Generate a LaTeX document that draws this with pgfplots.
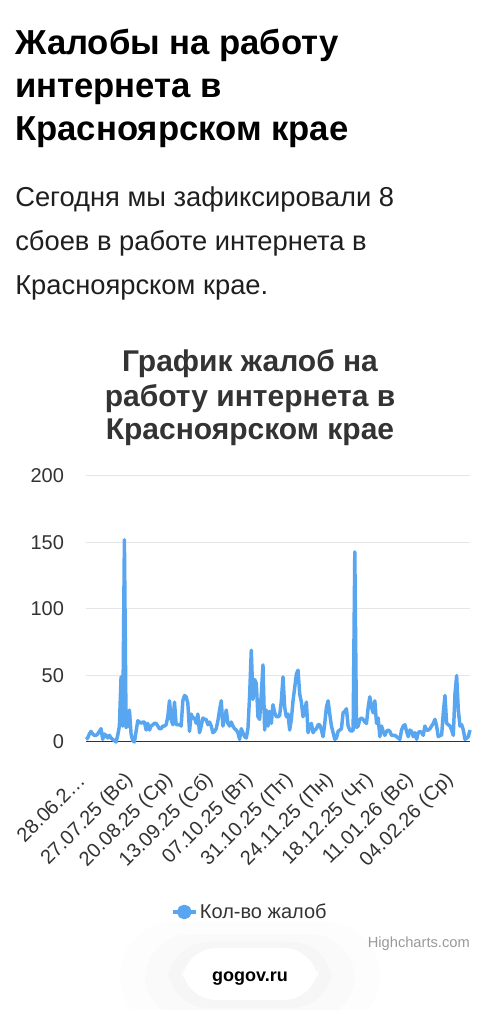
\documentclass[border=0pt]{standalone}
\usepackage{fontspec}
\setmainfont{Liberation Sans}
\usepackage{pgfplots}
\pgfplotsset{compat=1.18}

\definecolor{hcblue}{RGB}{88,166,240}
\definecolor{hctext}{RGB}{51,51,51}
\definecolor{hcgrid}{RGB}{230,230,230}
\definecolor{hcgray}{RGB}{153,153,153}

% daily complaint counts, day 0 = 28.06.25
\pgfplotstableread{
d v
0 2
1 3
2 6
3 8
4 6
5 5
6 5
7 6
8 8
9 10
10 2
11 6
12 5
13 3
14 5
15 3
16 2
17 1
18 0
19 5
20 12
21 49
22 12
23 152
24 11
25 12
26 24
27 6
28 1
29 0
30 8
31 16
32 15
33 14
34 15
35 15
36 9
37 14
38 9
39 12
40 13
41 14
42 14
43 12
44 10
45 10
46 12
47 12
48 13
49 19
50 31
51 17
52 13
53 30
54 13
55 13
56 13
57 12
58 31
59 35
60 34
61 29
62 8
63 21
64 18
65 18
66 14
67 21
68 7
69 12
70 18
71 17
72 17
73 13
74 15
75 12
76 7
77 8
78 10
79 16
80 24
81 31
82 12
83 17
84 24
85 14
86 12
87 15
88 12
89 10
90 9
91 7
92 2
93 10
94 7
95 4
96 3
97 10
98 35
99 69
100 32
101 47
102 44
103 19
104 17
105 36
106 58
107 9
108 24
109 12
110 23
111 14
112 28
113 22
114 19
115 19
116 20
117 31
118 49
119 26
120 19
121 21
122 9
123 17
124 31
125 41
126 51
127 54
128 36
129 30
130 19
131 24
132 30
133 7
134 12
135 14
136 7
137 9
138 10
139 13
140 13
141 9
142 4
143 14
144 26
145 31
146 21
147 12
148 7
149 2
150 3
151 8
152 9
153 10
154 22
155 23
156 25
157 12
158 9
159 8
160 9
161 143
162 11
163 12
164 17
165 18
166 17
167 15
168 14
169 26
170 34
171 26
172 22
173 31
174 14
175 18
176 4
177 12
178 8
179 5
180 8
181 9
182 8
183 5
184 5
185 5
186 4
187 3
188 2
189 9
190 12
191 13
192 8
193 4
194 9
195 8
196 4
197 7
198 2
199 7
200 8
201 7
202 5
203 12
204 9
205 9
206 10
207 12
208 14
209 17
210 12
211 4
212 5
213 5
214 22
215 35
216 14
217 13
218 12
219 9
220 5
221 36
222 50
223 24
224 12
225 13
226 9
227 2
228 3
229 4
230 9
}\complaints

\begin{document}
\begin{tikzpicture}[x=0.75pt,y=0.75pt]
  \useasboundingbox (0,0) rectangle (500,1010);
  \fill[white] (0,0) rectangle (500,1010);

  % page heading
  \begin{scope}[every node/.style={anchor=base west, inner sep=0pt,
      font=\fontsize{26pt}{30pt}\selectfont\bfseries, text=black}]
    \node at (15,955) {Жалобы на работу};
    \node at (15,912) {интернета в};
    \node at (15,869) {Красноярском крае};
  \end{scope}

  % paragraph
  \begin{scope}[every node/.style={anchor=base west, inner sep=0pt,
      font=\fontsize{20.5pt}{24pt}\selectfont, text=black!88}]
    \node at (15,803) {Сегодня мы зафиксировали 8};
    \node at (15,759) {сбоев в работе интернета в};
    \node at (15,715) {Красноярском крае.};
  \end{scope}

  % chart title
  \begin{scope}[every node/.style={anchor=base, inner sep=0pt,
      font=\fontsize{22.5pt}{26pt}\selectfont\bfseries, text=hctext}]
    \node at (250,638) {График жалоб на};
    \node at (250,603) {работу интернета в};
    \node at (250,570) {Красноярском крае};
  \end{scope}

  \begin{axis}[
    at={(64.5pt,201pt)},
    anchor=south west,
    width=288pt,
    height=199.5pt,
    scale only axis,
    xmin=0, xmax=230,
    ymin=0, ymax=200,
    clip=false,
    axis lines*=left,
    y axis line style={draw=none},
    x axis line style={draw=hctext, line width=0.75pt},
    major tick length=0pt,
    ymajorgrids,
    grid style={hcgrid, line width=0.75pt},
    ytick={0,50,100,150,200},
    yticklabels={0,50,100,150,200},
    y tick label style={font=\fontsize{15pt}{18pt}\selectfont, text=hctext,
      anchor=east, xshift=-13pt},
    xtick={0,29,53,77,101,125,149,173,197,221},
    xticklabels={28.06.2…, 27.07.25 (Вс), 20.08.25 (Ср), 13.09.25 (Сб),
      07.10.25 (Вт), 31.10.25 (Пт), 24.11.25 (Пн), 18.12.25 (Чт),
      11.01.26 (Вс), 04.02.26 (Ср)},
    x tick label style={font=\fontsize{15pt}{18pt}\selectfont, text=hctext,
      yshift=-24pt, xshift=-1pt, rotate=45, anchor=east},
    legend style={at={(0.428,-0.639)}, anchor=center, draw=none, fill=none,
      font=\fontsize{15pt}{18pt}\selectfont, text=hctext},
    legend image code/.code={
      \draw[hcblue, line width=2.4pt] (0pt,0pt) -- (17pt,0pt);
      \fill[hcblue] (8.5pt,0pt) circle (4.2pt);
    },
  ]
    \addplot[hcblue, line width=2.6pt, line join=round, no markers]
      table[x=d, y=v] {\complaints};
    \addlegendentry{Кол-во жалоб}
  \end{axis}

  % credits
  \node[anchor=base east, inner sep=0pt, font=\fontsize{11pt}{13pt}\selectfont,
    text=hcgray] at (470,62) {Highcharts.com};

  % floating site badge
  \fill[black, opacity=0.008, rounded corners=40] (120,-20) rectangle (380,88);
  \fill[black, opacity=0.01, rounded corners=34] (145,-10) rectangle (355,76);
  \fill[black, opacity=0.015, rounded corners=30] (168,2) rectangle (332,68);
  \fill[white, rounded corners=26] (182,10) rectangle (318,62);
  \node[anchor=base, inner sep=0pt, font=\fontsize{13.5pt}{16pt}\selectfont\bfseries,
    text=black] at (250,28) {gogov.ru};
\end{tikzpicture}
\end{document}
